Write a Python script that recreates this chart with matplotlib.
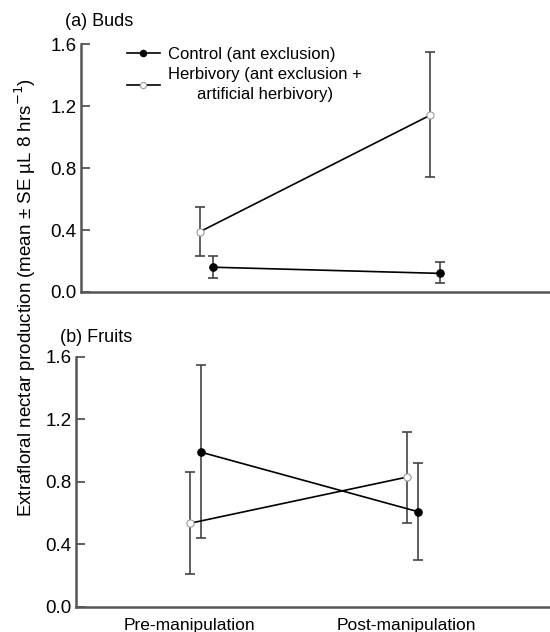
import numpy as np
import matplotlib.pyplot as plt

plt.rcParams['font.family'] = ['Liberation Sans', 'DejaVu Sans']
plt.rcParams['font.size'] = 12

groups = ["Pre-manipulation", "Post-manipulation"]
yticks = [0.0, 0.4, 0.8, 1.2, 1.6]

# (a) Buds
buds_ctrl = [0.16, 0.12]
buds_ctrl_lo = [0.09, 0.06]
buds_ctrl_hi = [0.23, 0.195]
buds_herb = [0.39, 1.14]
buds_herb_lo = [0.23, 0.74]
buds_herb_hi = [0.55, 1.55]

# (b) Fruits
fruit_ctrl = [0.99, 0.61]
fruit_ctrl_lo = [0.44, 0.30]
fruit_ctrl_hi = [1.55, 0.92]
fruit_herb = [0.535, 0.83]
fruit_herb_lo = [0.21, 0.54]
fruit_herb_hi = [0.86, 1.12]

# small horizontal offsets so bars don't overlap
buds_x_herb = [1.03, 2.10]
buds_x_ctrl = [1.09, 2.15]
fruit_x_herb = [1.0, 2.0]
fruit_x_ctrl = [1.05, 2.05]

fig = plt.figure(figsize=(5.5, 6.32), dpi=100)
ax1 = fig.add_axes([0.147, 0.538, 0.853, 0.392])
ax2 = fig.add_axes([0.138, 0.0396, 0.862, 0.396])

spine_c = '#555555'
err_c = '#444444'


def draw(ax, xh, h, hlo, hhi, xc, c, clo, chi):
    h = np.array(h); c = np.array(c)
    ax.errorbar(xh, h, yerr=[h - np.array(hlo), np.array(hhi) - h], fmt='none',
                ecolor=err_c, elinewidth=1.2, capsize=3.5, capthick=1.2, zorder=2)
    ax.errorbar(xc, c, yerr=[c - np.array(clo), np.array(chi) - c], fmt='none',
                ecolor=err_c, elinewidth=1.2, capsize=3.5, capthick=1.2, zorder=2)
    lc, = ax.plot(xc, c, '-o', color='black', lw=1.2, ms=5.2,
                  markerfacecolor='black', markeredgecolor='black', zorder=3,
                  label='Control (ant exclusion)')
    lh, = ax.plot(xh, h, '-o', color='black', lw=1.2, ms=5.2,
                  markerfacecolor='white', markeredgecolor='#999999', mew=0.8, zorder=3,
                  label='Herbivory (ant exclusion +\nartificial herbivory)')
    ax.set_ylim(0, 1.6)
    ax.set_xlim(0.474, 2.661)
    ax.set_yticks(yticks)
    ax.set_yticklabels([f"{v:.1f}" for v in yticks], fontsize=13.5)
    ax.tick_params(axis='y', direction='in', length=6.5, width=1.3, color=spine_c, pad=3)
    for s in ['top', 'right']:
        ax.spines[s].set_visible(False)
    for s in ['left', 'bottom']:
        ax.spines[s].set_color(spine_c)
        ax.spines[s].set_linewidth(1.8)
    return lc, lh


draw(ax1, buds_x_herb, buds_herb, buds_herb_lo, buds_herb_hi,
     buds_x_ctrl, buds_ctrl, buds_ctrl_lo, buds_ctrl_hi)
ax1.set_xticks([])

draw(ax2, fruit_x_herb, fruit_herb, fruit_herb_lo, fruit_herb_hi,
     fruit_x_ctrl, fruit_ctrl, fruit_ctrl_lo, fruit_ctrl_hi)
ax2.set_xticks([1, 2])
ax2.set_xticklabels(groups, fontsize=12.5)
ax2.tick_params(axis='x', length=0, pad=8)

leg = ax1.legend(loc='upper left', bbox_to_anchor=(0.098, 0.99), frameon=False,
                 borderpad=0, borderaxespad=0, markerscale=0.85,
                 handlelength=2.0, handletextpad=0.45, labelspacing=0.32, fontsize=12)
leg.get_texts()[1].set_multialignment('center')
leg.get_texts()[1].set_linespacing(1.45)

fig.text(65 / 550, 1 - 22 / 632, "(a) Buds", fontsize=13, va='center', ha='left')
fig.text(60 / 550, 1 - 337 / 632, "(b) Fruits", fontsize=13, va='center', ha='left')
fig.text(25 / 550, 1 - 297 / 632,
         "Extrafloral nectar production (mean \u00b1 SE \u00b5L 8 hrs$^{-1}$)",
         rotation=90, va='center', ha='center', fontsize=13.5)

fig.savefig('out.png', dpi=100)
